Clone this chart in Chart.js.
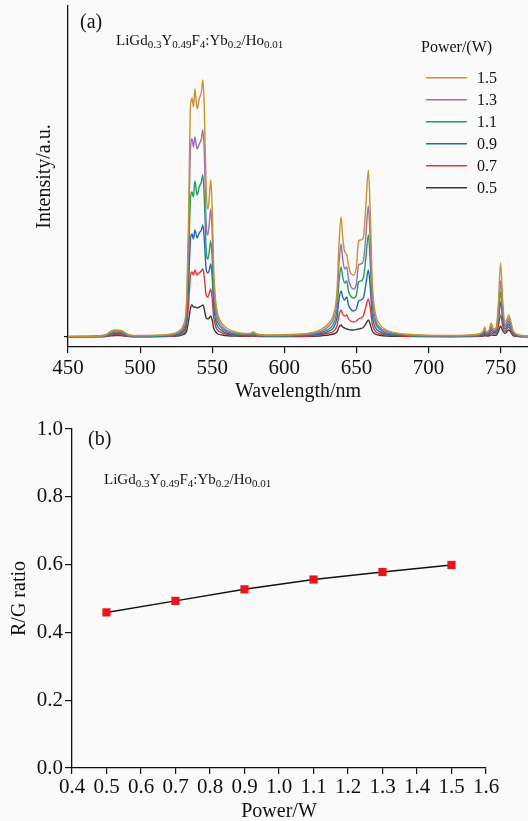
<!DOCTYPE html>
<html>
<head>
<meta charset="utf-8">
<script src="https://cdn.jsdelivr.net/npm/chart.js@4.4.1/dist/chart.umd.min.js"></script>
<style>
  html, body { margin: 0; padding: 0; background: #fafafa; }
  #wrap { position: relative; width: 528px; height: 821px; overflow: hidden; }
  #specChart { position: absolute; left: 0; top: 0; }
  #ratioChart { position: absolute; left: 0; top: 405px; }
</style>
</head>
<body>
<div id="wrap">
  <canvas id="specChart" width="528" height="405"></canvas>
  <canvas id="ratioChart" width="528" height="416"></canvas>
</div>
<script>
// (a) emission spectra, intensity in arbitrary units
const wavelengths = [450, 470, 476, 480, 483, 487, 491, 495, 505, 515, 522, 527, 530, 532, 533.5, 535, 536, 537, 538, 539.5,
  541, 542.5, 543.5, 544.5, 545.8, 547, 548, 549, 550, 551, 552.5, 554, 557, 561, 566, 572, 576, 578.5, 581, 590,
  605, 618, 626, 631, 634, 636.5, 638, 639.4, 640.5, 641.8, 643.3, 644.5, 646, 648, 650, 651.5, 653, 654.8, 656.5, 658.3,
  659.5, 661, 663, 666, 671, 680, 695, 715, 728, 735, 738, 739, 740, 742, 743.5, 745, 747, 748.5, 750, 751.5,
  753, 754.5, 755.7, 757, 758.5, 761, 765, 769];

const powerLabels = ['1.5', '1.3', '1.1', '0.9', '0.7', '0.5'];
const powerColors = ['#c8922e', '#9d6cbb', '#1fa05e', '#2566b5', '#e5343a', '#3a3a3a'];

const int15 = [0.5, 1, 2, 6, 7, 6.5, 3, 1.5, 1.5, 2, 3, 6, 12, 30, 110, 232, 239, 230, 248, 228,
  238, 245, 257, 230, 150, 128, 140, 157, 130, 70, 35, 22, 13, 8, 5, 3.5, 3.5, 5, 3, 2,
  2.5, 4, 8, 14, 22, 45, 95, 120, 100, 86, 82, 72, 64, 62, 70, 96, 97, 99, 130, 167,
  130, 55, 25, 13, 7, 3.5, 2, 1.5, 2, 3, 6, 10, 5, 7, 14, 8, 10, 35, 74, 35,
  15, 18, 22, 16, 7, 3, 1.5, 1];
const int13 = [0.5, 1, 2, 5, 6, 5.5, 2.5, 1.2, 1.2, 1.6, 2.5, 5, 10, 25, 90, 190, 198, 190, 200, 188,
  193, 198, 207, 185, 115, 102, 114, 128, 105, 56, 28, 18, 10, 6, 4, 3, 3, 4, 2.5, 1.5,
  2, 3, 6, 11, 18, 35, 74, 93, 78, 68, 70, 58, 51, 48, 53, 72, 73, 76, 100, 131,
  100, 43, 19, 10, 5.5, 3, 1.5, 1.2, 1.5, 2.5, 5, 8, 4, 5.5, 11, 6.5, 8, 27, 56, 27,
  12, 15, 19, 13, 5.5, 2.5, 1.2, 0.8];
const int11 = [0.4, 0.8, 1.5, 4, 5, 4.5, 2, 1, 1, 1.3, 2, 4, 8, 19, 68, 140, 145, 140, 156, 142,
  150, 155, 162, 140, 88, 78, 86, 96, 78, 42, 21, 14, 8, 5, 3, 2.5, 2.5, 3, 2, 1.2,
  1.5, 2.5, 5, 8, 13, 27, 56, 70, 60, 54, 56, 46, 41, 39, 42, 55, 56, 59, 78, 102,
  78, 33, 15, 8, 4, 2.5, 1.2, 1, 1.2, 2, 4, 6.5, 3.5, 4.5, 9, 5.5, 6.5, 22, 45, 22,
  10, 12.5, 16, 11, 4.5, 2, 1, 0.6];
const int09 = [0.3, 0.6, 1.2, 3, 3.8, 3.5, 1.6, 0.8, 0.8, 1, 1.5, 3, 6, 14, 48, 99, 103, 98, 107, 99,
  104, 107, 112, 98, 68, 64, 67, 73, 60, 32, 16, 10, 6, 3.5, 2.5, 2, 2, 2.5, 1.5, 1,
  1.2, 2, 3.5, 6, 9, 19, 38, 46, 40, 37, 40, 32, 28, 26, 28, 36, 37, 39, 52, 67,
  52, 22, 10, 5.5, 3, 2, 1, 0.8, 1, 1.5, 3, 5, 2.5, 3.5, 7, 4.5, 5, 17, 35, 17,
  8, 10, 13, 9, 3.5, 1.5, 0.8, 0.5];
const int07 = [0.2, 0.4, 0.8, 2, 2.5, 2.3, 1, 0.5, 0.5, 0.7, 1, 2, 4, 9, 30, 62, 65, 62, 67, 62,
  64, 66, 68, 60, 42, 40, 44, 48, 38, 20, 10, 6.5, 4, 2.5, 1.8, 1.3, 1.3, 1.8, 1, 0.7,
  0.8, 1.3, 2.5, 4, 5.5, 11, 22, 27, 23, 21, 22, 18, 16, 15, 16, 18, 19, 21, 30, 38,
  30, 13, 6, 3.5, 2, 1.3, 0.7, 0.6, 0.7, 1, 2, 3, 1.8, 2.3, 4.5, 3, 3.5, 11, 22, 11,
  5.5, 8, 10, 7, 2.5, 1, 0.5, 0.3];
const int05 = [0.1, 0.3, 0.5, 1.2, 1.5, 1.4, 0.6, 0.3, 0.3, 0.4, 0.6, 1.2, 2.5, 5, 15, 29, 32, 30, 30, 29,
  30, 31, 32, 28, 19, 18, 19, 21, 17, 9, 5, 3, 2, 1.3, 1, 0.8, 0.8, 1, 0.6, 0.4,
  0.5, 0.8, 1.3, 2, 3, 5, 10, 12, 10, 9, 8, 7.5, 7, 7, 7.5, 8, 8.5, 9.5, 13, 17,
  13, 6, 3, 1.8, 1, 0.7, 0.4, 0.3, 0.4, 0.6, 1, 1.5, 1, 1.2, 2.2, 1.6, 1.8, 5.5, 11, 6,
  3.5, 5.5, 7, 5, 1.5, 0.6, 0.3, 0.2];
const wavelengthTicks = [450, 500, 550, 600, 650, 700, 750];

// (b) red/green ratio against pump power
const ratioPower = [0.5, 0.7, 0.9, 1.1, 1.3, 1.5];
const ratioValues = [0.459, 0.493, 0.527, 0.556, 0.578, 0.599];
const powerTicks = [0.4, 0.5, 0.6, 0.7, 0.8, 0.9, 1.0, 1.1, 1.2, 1.3, 1.4, 1.5, 1.6];
const ratioTicks = [0.0, 0.2, 0.4, 0.6, 0.8, 1.0];

const SERIF = '"Liberation Serif", "Times New Roman", serif';
const INK = '#111111';
Chart.defaults.font.family = SERIF;
Chart.defaults.color = INK;

function drawFormula(ctx, x, y) {
  const parts = [['LiGd', 0], ['0.3', 1], ['Y', 0], ['0.49', 1], ['F', 0], ['4', 1],
    [':Yb', 0], ['0.2', 1], ['/Ho', 0], ['0.01', 1]];
  ctx.save();
  ctx.fillStyle = INK;
  ctx.textAlign = 'left';
  ctx.textBaseline = 'alphabetic';
  parts.forEach(([t, sub]) => {
    ctx.font = (sub ? '11px ' : '15px ') + SERIF;
    ctx.fillText(t, x, sub ? y + 3 : y);
    x += ctx.measureText(t).width;
  });
  ctx.restore();
}

const allSeries = [int15, int13, int11, int09, int07, int05];

const specNotes = {
  id: 'specNotes',
  afterDraw(chart) {
    const ctx = chart.ctx;
    ctx.save();
    ctx.fillStyle = INK;
    ctx.font = '20px ' + SERIF;
    ctx.textBaseline = 'alphabetic';
    ctx.fillText('(a)', 80, 28);
    drawFormula(ctx, 116, 45);
    ctx.font = '16px ' + SERIF;
    ctx.textBaseline = 'middle';
    ctx.fillText('Power/(W)', 421, 48);
    powerLabels.forEach((lab, i) => {
      const y = 77.7 + i * 22;
      ctx.strokeStyle = powerColors[i];
      ctx.lineWidth = 1.6;
      ctx.beginPath();
      ctx.moveTo(426, y);
      ctx.lineTo(467, y);
      ctx.stroke();
      ctx.fillStyle = INK;
      ctx.fillText(lab, 477, y + 1);
    });
    ctx.restore();
  }
};

new Chart(document.getElementById('specChart'), {
  type: 'line',
  data: {
    datasets: allSeries.map((arr, i) => ({
      label: powerLabels[i],
      data: arr.map((v, j) => ({ x: wavelengths[j], y: v })),
      borderColor: powerColors[i],
      borderWidth: 1.4,
      pointRadius: 0,
      cubicInterpolationMode: 'monotone',
      fill: false
    }))
  },
  options: {
    responsive: false,
    animation: false,
    events: [],
    layout: { padding: { top: 6, right: 0, bottom: 0, left: 0 } },
    plugins: { legend: { display: false }, tooltip: { enabled: false } },
    scales: {
      x: {
        type: 'linear',
        min: 450,
        max: 769,
        afterBuildTicks: s => { s.ticks = wavelengthTicks.map(v => ({ value: v })); },
        afterFit: s => { s.height = 58; },
        ticks: { font: { size: 21, lineHeight: 1 }, padding: 5, maxRotation: 0 },
        grid: { drawOnChartArea: false, tickLength: 6, color: INK, lineWidth: 1.2 },
        border: { display: true, color: INK, width: 1.3 },
        title: { display: true, text: 'Wavelength/nm', font: { size: 20, lineHeight: 1 }, padding: { top: 0, bottom: 3 } }
      },
      y: {
        min: -10,
        max: 331,
        afterBuildTicks: s => { s.ticks = [{ value: 0 }]; },
        afterFit: s => { s.width = 68; },
        ticks: { display: false },
        grid: { drawOnChartArea: false, tickLength: 4, color: INK, lineWidth: 1.2 },
        border: { display: true, color: INK, width: 1.3 },
        title: { display: true, text: 'Intensity/a.u.', font: { size: 20, lineHeight: 1 }, padding: { top: 35, bottom: 0 } }
      }
    }
  },
  plugins: [specNotes]
});

const ratioNotes = {
  id: 'ratioNotes',
  afterDraw(chart) {
    const ctx = chart.ctx;
    ctx.save();
    ctx.fillStyle = INK;
    ctx.font = '20px ' + SERIF;
    ctx.textBaseline = 'alphabetic';
    ctx.fillText('(b)', 88, 39.5);
    drawFormula(ctx, 104, 79);
    ctx.restore();
  }
};

new Chart(document.getElementById('ratioChart'), {
  type: 'line',
  data: {
    datasets: [{
      label: 'R/G ratio',
      data: ratioPower.map((p, i) => ({ x: p, y: ratioValues[i] })),
      borderColor: '#111111',
      borderWidth: 1.5,
      pointStyle: 'rect',
      pointRadius: 5.8,
      pointBackgroundColor: '#e8141e',
      pointBorderColor: '#e8141e',
      pointBorderWidth: 0,
      fill: false
    }]
  },
  options: {
    responsive: false,
    animation: false,
    events: [],
    layout: { padding: { top: 24, right: 42, bottom: 0, left: 0 } },
    plugins: { legend: { display: false }, tooltip: { enabled: false } },
    scales: {
      x: {
        type: 'linear',
        min: 0.4,
        max: 1.6,
        afterBuildTicks: s => { s.ticks = powerTicks.map(v => ({ value: v })); },
        afterFit: s => { s.height = 53; },
        ticks: { font: { size: 21, lineHeight: 1 }, padding: 3, maxRotation: 0, autoSkip: false, callback: v => v.toFixed(1) },
        grid: { drawOnChartArea: false, tickLength: 6, color: INK, lineWidth: 1.2 },
        border: { display: true, color: INK, width: 1.3 },
        title: { display: true, text: 'Power/W', font: { size: 20, lineHeight: 1 }, padding: { top: 0, bottom: -1 } }
      },
      y: {
        min: 0,
        max: 1,
        afterBuildTicks: s => { s.ticks = ratioTicks.map(v => ({ value: v })); },
        afterFit: s => { s.width = 72; },
        ticks: { font: { size: 21, lineHeight: 1 }, padding: 2, callback: v => v.toFixed(1) },
        grid: { drawOnChartArea: false, tickLength: 7, color: INK, lineWidth: 1.2 },
        border: { display: true, color: INK, width: 1.3 },
        title: { display: true, text: 'R/G ratio', font: { size: 20, lineHeight: 1 }, padding: { top: 10, bottom: 0 } }
      }
    }
  },
  plugins: [ratioNotes]
});
</script>
</body>
</html>
